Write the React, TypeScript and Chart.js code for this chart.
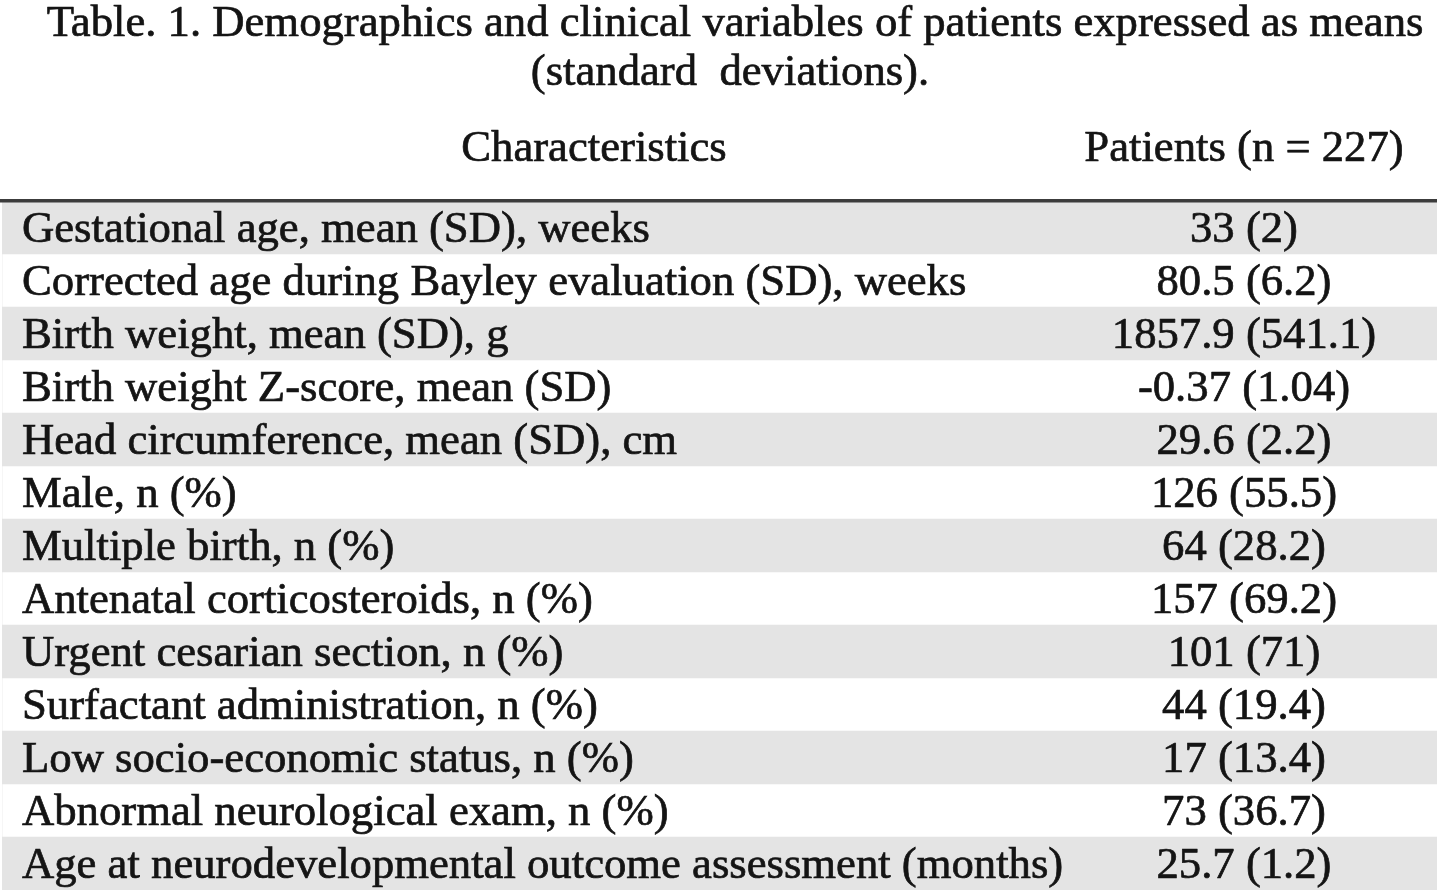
import React, { useEffect, useRef } from "react";
import { Chart, registerables } from "chart.js";

Chart.register(...registerables);

const titleLines = [
  "Table. 1. Demographics and clinical variables of patients expressed as means",
  "(standard  deviations).",
];

const columnHeaders = ["Characteristics", "Patients (n = 227)"];

const characteristics = [
  "Gestational age, mean (SD), weeks",
  "Corrected age during Bayley evaluation (SD), weeks",
  "Birth weight, mean (SD), g",
  "Birth weight Z-score, mean (SD)",
  "Head circumference, mean (SD), cm",
  "Male, n (%)",
  "Multiple birth, n (%)",
  "Antenatal corticosteroids, n (%)",
  "Urgent cesarian section, n (%)",
  "Surfactant administration, n (%)",
  "Low socio-economic status, n (%)",
  "Abnormal neurological exam, n (%)",
  "Age at neurodevelopmental outcome assessment (months)",
];

const patientValues = [
  "33 (2)",
  "80.5 (6.2)",
  "1857.9 (541.1)",
  "-0.37 (1.04)",
  "29.6 (2.2)",
  "126 (55.5)",
  "64 (28.2)",
  "157 (69.2)",
  "101 (71)",
  "44 (19.4)",
  "17 (13.4)",
  "73 (36.7)",
  "25.7 (1.2)",
];

// 1 = shaded row, 0 = plain row
const rowShading = [1, 0, 1, 0, 1, 0, 1, 0, 1, 0, 1, 0, 1];

const FONT_FAMILY = '"Liberation Serif", "Times New Roman", Times, serif';
const FONT_SIZE = 44.7;
const TEXT_COLOR = "#141414";
const STROKE_W = 0.7;
const ROW_TEXT_SHIFT = 3;

const tableTextPlugin = {
  id: "tableText",
  afterDraw(chart: any) {
    const ctx = chart.ctx;
    const yScale = chart.scales.y;
    ctx.save();
    ctx.fillStyle = TEXT_COLOR;
    ctx.strokeStyle = TEXT_COLOR;
    ctx.lineWidth = STROKE_W;
    ctx.lineJoin = "round";
    ctx.font = `${FONT_SIZE}px ${FONT_FAMILY}`;
    ctx.textAlign = "center";
    ctx.textBaseline = "middle";
    const put = (t: string, x: number, y: number) => {
      ctx.fillText(t, x, y);
      ctx.strokeText(t, x, y);
    };
    put(titleLines[0], 735, 24.5);
    put(titleLines[1], 730, 73);
    put(columnHeaders[0], 594, 149);
    put(columnHeaders[1], 1244, 149);
    patientValues.forEach((v, i) => {
      put(v, 1244, yScale.getPixelForValue(i) + ROW_TEXT_SHIFT);
    });
    ctx.restore();
  },
};

export default function App() {
  const canvasRef = useRef<HTMLCanvasElement | null>(null);

  useEffect(() => {
    document.body.style.margin = "0";
    document.body.style.background = "#ffffff";
    const canvas = canvasRef.current;
    if (!canvas) return;
    const chart = new Chart(canvas, {
      type: "bar",
      data: {
        labels: characteristics,
        datasets: [
          {
            data: rowShading,
            backgroundColor: "#e4e4e4",
            borderWidth: 0,
            barPercentage: 1,
            categoryPercentage: 1,
          },
        ],
      },
      options: {
        indexAxis: "y",
        responsive: false,
        animation: false,
        events: [],
        layout: { padding: { top: 201, bottom: 5, left: 2, right: 0 } },
        plugins: {
          legend: { display: false },
          tooltip: { enabled: false },
          title: { display: false },
        },
        scales: {
          x: {
            type: "linear",
            position: "top",
            min: 0,
            max: 1,
            ticks: { display: false },
            grid: { display: false, drawTicks: false },
            border: { display: true, color: "#3c3c3c", width: 3.5, z: 2 },
            afterFit(scale: any) {
              scale.height = 0;
              scale.paddingLeft = 0;
              scale.paddingRight = 0;
            },
          },
          y: {
            type: "category",
            position: "left",
            offset: true,
            grid: { display: false, drawTicks: false },
            border: { display: false },
            ticks: {
              mirror: true,
              padding: 20,
              z: 2,
              color: TEXT_COLOR,
              textStrokeColor: TEXT_COLOR,
              textStrokeWidth: STROKE_W,
              font: {
                family: FONT_FAMILY,
                size: FONT_SIZE,
                lineHeight: `${ROW_TEXT_SHIFT * 2}px`,
              },
              autoSkip: false,
              // empty first line nudges each label down by ROW_TEXT_SHIFT px
              callback(value: any) {
                return ["", characteristics[value as number]];
              },
            },
            afterFit(scale: any) {
              scale.width = 0;
              scale.paddingTop = 0;
              scale.paddingBottom = 0;
            },
          },
        },
      },
      plugins: [tableTextPlugin],
    });
    return () => chart.destroy();
  }, []);

  return (
    <canvas
      ref={canvasRef}
      width={1437}
      height={895}
      style={{ display: "block", width: 1437, height: 895 }}
    />
  );
}
